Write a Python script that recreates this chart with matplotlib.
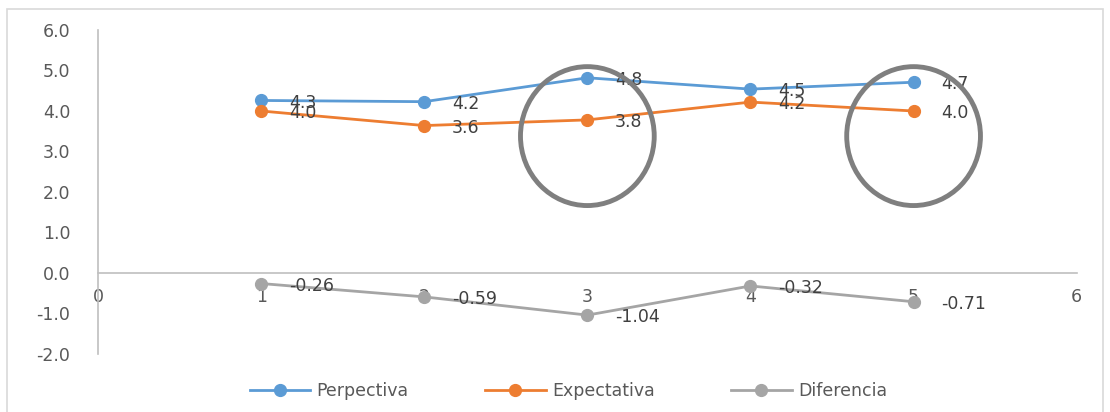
import matplotlib.pyplot as plt
from matplotlib.patches import Ellipse, Rectangle

# survey items 1..5
items = [1, 2, 3, 4, 5]
perpectiva = [4.26, 4.23, 4.82, 4.54, 4.71]
expectativa = [4.00, 3.64, 3.78, 4.22, 4.00]
diferencia = [-0.26, -0.59, -1.04, -0.32, -0.71]

series = [
    ("Perpectiva", perpectiva, "#5b9bd5", "{:.1f}"),
    ("Expectativa", expectativa, "#ed7d31", "{:.1f}"),
    ("Diferencia", diferencia, "#a5a5a5", "{:.2f}"),
]

# items highlighted with a circle
highlight = [3, 5]

xticks = [0, 1, 2, 3, 4, 5, 6]
yticks = [-2, -1, 0, 1, 2, 3, 4, 5, 6]

FS = 12.5

fig = plt.figure(figsize=(11.1, 4.12), dpi=100)
ax = fig.add_axes([0.0883, 0.1408, 0.8817, 0.7864])

for name, vals, color, fmt in series:
    ax.plot(items, vals, color=color, lw=2, marker="o", ms=8.5,
            label=name, zorder=3)
    for x, v in zip(items, vals):
        ax.annotate(fmt.format(v), (x, v), xytext=(20, -1.5),
                    textcoords="offset points", va="center", ha="left",
                    fontsize=FS, color="#404040", zorder=4)

for x in highlight:
    ax.add_patch(Ellipse((x, 3.38), 0.82, 3.43, fill=False,
                         edgecolor="#7f7f7f", lw=3.5, zorder=5))

ax.set_xlim(0, 6)
ax.set_ylim(-2, 6)
ax.set_xticks(xticks)
ax.set_yticks(yticks)
ax.set_yticklabels([f"{t:.1f}" for t in yticks])

ax.spines["top"].set_visible(False)
ax.spines["right"].set_visible(False)
ax.spines["bottom"].set_position(("data", 0))
ax.spines["left"].set_position(("data", 0))
for s in ("bottom", "left"):
    ax.spines[s].set_color("#bfbfbf")
    ax.spines[s].set_linewidth(1.2)

ax.tick_params(axis="both", length=0, labelsize=FS, labelcolor="#595959")
ax.tick_params(axis="x", pad=11)
ax.tick_params(axis="y", pad=20)

fig.legend(loc="center", bbox_to_anchor=(0.512, 0.051), ncol=3,
           frameon=False, fontsize=FS, labelcolor="#595959",
           handlelength=3.5, handletextpad=0.35, columnspacing=4.4)

# chart area border
fig.patches.append(Rectangle((0.0063, -0.01), 0.9874, 0.988,
                             transform=fig.transFigure, fill=False,
                             edgecolor="#d9d9d9", lw=1.2))

fig.savefig("out.png", dpi=100)
